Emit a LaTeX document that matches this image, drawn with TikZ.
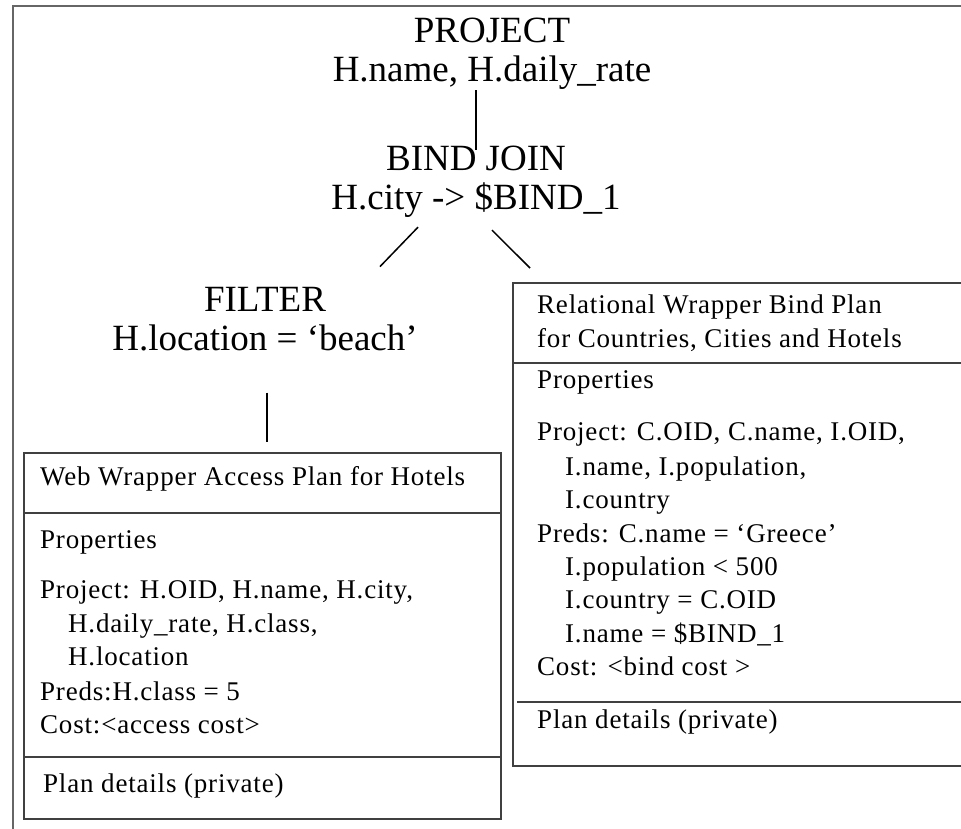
\documentclass[tikz,border=0pt]{standalone}
\usepackage{fontspec}
\setmainfont{Liberation Serif}
\newfontfamily\boxfont{Liberation Serif}[LetterSpace=3]
\usetikzlibrary{calc}
\begin{document}
\begin{tikzpicture}[x=1pt,y=-1pt,
  lbl/.style={font=\fontsize{37}{39}\selectfont, align=center, inner sep=0pt, anchor=base},
  txt/.style={font=\boxfont\fontsize{27}{33}\selectfont, anchor=base west, inner sep=0pt},
  box/.style={draw=black!75, line width=2pt, inner sep=0pt, anchor=north west},
  divider/.style={draw=black!75, line width=2pt},
  conn/.style={draw=black, line width=1.5pt}]
\clip (0,0) rectangle (961,829);
\useasboundingbox (0,0) rectangle (961,829);
\fill[white] (0,0) rectangle (961,829);
% outer frame
\draw[draw=black!60, line width=2pt] (13,6) rectangle (1000,900);

% operator labels (base = baseline of the last line)
\node[lbl] (project) at (492,82) {PROJECT\\H.name, H.daily\_rate};
\node[lbl] (bind) at (476,210) {BIND JOIN\\H.city -> \$BIND\_1};
\node[lbl] (filter) at (265,350) {FILTER\\H.location = ‘beach’};

% left box
\node[box, minimum width=477pt, minimum height=366pt] (lbox) at (23,452) {};
\draw[divider] (lbox.west |- 0,513) -- (lbox.east |- 0,513);
\draw[divider] (lbox.west |- 0,757) -- (lbox.east |- 0,757);
\node[txt] (l1) at (40,485) {Web Wrapper Access Plan for Hotels};
\node[txt] (l2) at (40,548) {Properties};
\node[txt] (l3) at (40,598) {Project: H.OID, H.name, H.city,};
\node[txt] (l4) at (68,632) {H.daily\_rate, H.class,};
\node[txt] (l5) at (68,665) {H.location};
\node[txt] (l6) at (40,700) {Preds:H.class = 5};
\node[txt] (l7) at (40,733) {Cost:<access cost>};
\node[txt] (l8) at (43,792) {Plan details (private)};

% right box
\node[box, minimum width=480pt, minimum height=483pt] (rbox) at (512,282) {};
\draw[divider] (rbox.west |- 0,363) -- (rbox.east |- 0,363);
\draw[divider] ($(rbox.west |- 0,702)+(5,0)$) -- (rbox.east |- 0,702);
\node[txt] (r1) at (537,313) {Relational Wrapper Bind Plan};
\node[txt] (r2) at (537,347) {for Countries, Cities and Hotels};
\node[txt] (r3) at (537,388) {Properties};
\node[txt] (r4) at (537,440) {Project: C.OID, C.name, I.OID,};
\node[txt] (r5) at (565,475) {I.name, I.population,};
\node[txt] (r6) at (565,508) {I.country};
\node[txt] (r7) at (537,542) {Preds: C.name = ‘Greece’};
\node[txt] (r8) at (565,575) {I.population < 500};
\node[txt] (r9) at (565,608) {I.country = C.OID};
\node[txt] (r10) at (565,642) {I.name = \$BIND\_1};
\node[txt] (r11) at (537,675) {Cost: <bind cost >};
\node[txt] (r12) at (537,728) {Plan details (private)};

% connectors
\draw[conn] (bind.north |- project.south) -- ($(bind.north)+(0,4)$);
\draw[conn] ($(bind.south)+(-58,9)$) -- ($(filter.north)+(115,-20)$);
\draw[conn] ($(bind.south)+(16,12)$) -- ($(rbox.north west)+(18,-14)$);
\draw[conn] ($(filter.south)+(2,42)$) -- ($(filter.south |- lbox.north)+(2,-10)$);
\end{tikzpicture}
\end{document}
